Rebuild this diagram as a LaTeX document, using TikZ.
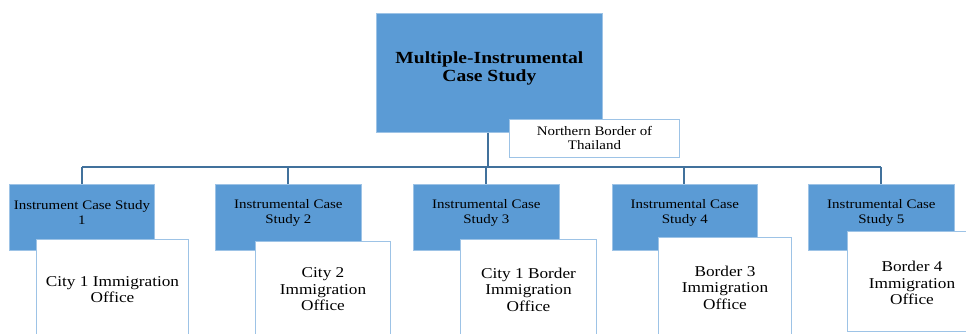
\documentclass[tikz,border=0pt]{standalone}
\usepackage{fontspec}
\setmainfont{Liberation Serif}[FakeStretch=1.15]
\usetikzlibrary{calc}
\definecolor{boxblue}{HTML}{5B9BD5}
\definecolor{lineblue}{HTML}{41719C}
\definecolor{edgeblue}{HTML}{9DC3E6}
\tikzset{
  x=1pt, y=-1pt,
  bluebox/.style={fill=boxblue, draw=edgeblue, line width=0.8pt, inner sep=0pt, anchor=north west},
  whitebox/.style={fill=white, draw=edgeblue, line width=1pt, inner sep=0pt, anchor=north west},
  link/.style={draw=lineblue, line width=1.2pt},
  casetext/.style={align=center, font=\fontsize{13}{15}\selectfont, inner sep=0pt},
  sitetext/.style={align=center, font=\fontsize{15}{16.5}\selectfont, inner sep=0pt},
}
\begin{document}
\begin{tikzpicture}
\useasboundingbox (0,0) rectangle (966,333);
\clip (0,0) rectangle (966,333);

% top level
\node[bluebox, minimum width=226, minimum height=119] (top) at (376,13) {};
\node[align=center, inner sep=0pt, font=\fontsize{17}{18}\selectfont\bfseries]
  (toptext) at ($(top.center)+(0,-4.5)$) {Multiple-Instrumental\\Case Study};

% trunk and branch bar
\coordinate (bar) at (488,167);
\coordinate (barL) at (82,167);
\coordinate (barR) at (881,167);
\draw[link] (top.south -| bar) -- (bar);
\draw[link] (barL) -- (barR);

% case study boxes
\node[bluebox, minimum width=145, minimum height=66] (c1) at (9,184) {};
\node[bluebox, minimum width=146, minimum height=66] (c2) at (215,184) {};
\node[bluebox, minimum width=146, minimum height=66] (c3) at (413,184) {};
\node[bluebox, minimum width=145, minimum height=66] (c4) at (612,184) {};
\node[bluebox, minimum width=146, minimum height=66] (c5) at (808,184) {};

\foreach \b/\x in {c1/82, c2/288, c3/486, c4/684, c5/881}{
  \draw[link] (\x,167) -- (\b.north -| {(\x,0)});
}

\node[casetext] (t1) at ($(c1.center)+(0,-4.5)$) {Instrument Case Study\\1};
\node[casetext] (t2) at ($(c2.center)+(0,-4.5)$) {Instrumental Case\\Study 2};
\node[casetext] (t3) at ($(c3.center)+(0,-4.5)$) {Instrumental Case\\Study 3};
\node[casetext] (t4) at ($(c4.center)+(0,-4.5)$) {Instrumental Case\\Study 4};
\node[casetext] (t5) at ($(c5.center)+(0,-4.5)$) {Instrumental Case\\Study 5};

% site boxes
\node[whitebox, minimum width=152, minimum height=100] (s1) at (36,239) {};
\node[whitebox, minimum width=135, minimum height=100] (s2) at (255,241) {};
\node[whitebox, minimum width=136, minimum height=100] (s3) at (460,239) {};
\node[whitebox, minimum width=133, minimum height=100] (s4) at (658,237) {};
\node[whitebox, minimum width=135, minimum height=100] (s5) at (847,231) {};

\node[sitetext] (u1) at (s1.center) {City 1 Immigration\\Office};
\node[sitetext] (u2) at ($(s2.center)+(0,-2)$) {City 2\\Immigration\\Office};
\node[sitetext] (u3) at (s3.center) {City 1 Border\\Immigration\\Office};
\node[sitetext] (u4) at (s4.center) {Border 3\\Immigration\\Office};
\node[sitetext] (u5) at ($(s5.center)+(-3,1.5)$) {Border 4\\Immigration\\Office};

% region label
\node[whitebox, minimum width=170, minimum height=38] (region) at (509,119) {};
\node[align=center, inner sep=0pt, font=\fontsize{13}{14}\selectfont]
  (regiontext) at ($(region.center)+(0,-1)$) {Northern Border of\\Thailand};
\end{tikzpicture}
\end{document}
